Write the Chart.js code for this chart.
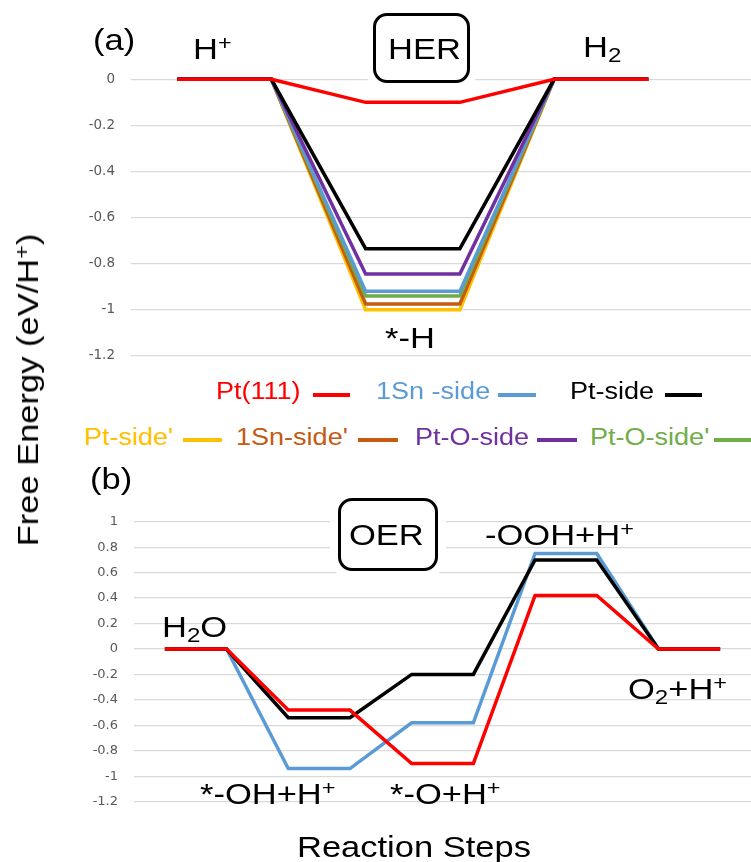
<!DOCTYPE html>
<html>
<head>
<meta charset="utf-8">
<title>Free energy diagrams: HER and OER</title>
<script src="https://cdn.jsdelivr.net/npm/chart.js@4.4.1/dist/chart.umd.min.js"></script>
<style>
  html, body { margin: 0; padding: 0; background: #fff; }
  #page { position: relative; width: 751px; height: 862px; overflow: hidden;
          font-family: "Liberation Sans", Arial, sans-serif; color: #000; }
  canvas { position: absolute; left: 0; }
  .t { position: absolute; white-space: nowrap; line-height: 1;
       transform-origin: 0 0; transform: scaleX(1.15); }
  .sup { font-size: 0.68em; position: relative; top: -0.42em; }
  .sub { font-size: 0.7em; position: relative; top: 0.26em; }
  .box { position: absolute; box-sizing: border-box; border: 3px solid #000;
         border-radius: 14px; background: #fff; box-shadow: 0 0 0 8px #fff; }
  .key { position: absolute; height: 4px; }
  .vt { position: absolute; width: 0; height: 0; transform-origin: 0 0;
        transform: rotate(-90deg) scaleX(1.15); }
  .vt > div { position: absolute; left: 0; top: 0; white-space: nowrap; line-height: 1;
              transform: translate(-50%, -50%); }
</style>
</head>
<body>
<div id="page">
  <canvas id="her" width="751" height="380" style="top:0px"></canvas>
  <canvas id="oer" width="751" height="400" style="top:460px"></canvas>
</div>
<script>
// ---- HER: reaction steps (two points per state: H+, *-H, H2) ----
const herSteps = [0, 1, 2, 3, 4, 5];
const herPt111    = [0, 0, -0.10,  -0.10,  0, 0];
const herPtSide   = [0, 0, -0.735, -0.735, 0, 0];
const herPtOSide  = [0, 0, -0.845, -0.845, 0, 0];
const her1SnSide  = [0, 0, -0.92,  -0.92,  0, 0];
const herPtOSideP = [0, 0, -0.94,  -0.94,  0, 0];
const her1SnSideP = [0, 0, -0.975, -0.975, 0, 0];
const herPtSideP  = [0, 0, -1.00,  -1.00,  0, 0];
const herTicks = [0, -0.2, -0.4, -0.6, -0.8, -1, -1.2];

// ---- OER: reaction steps (H2O, *-OH+H+, *-O+H+, -OOH+H+, O2+H+) ----
const oerSteps = [0, 1, 2, 3, 4, 5, 6, 7, 8, 9];
const oerPt111   = [0, 0, -0.48, -0.48, -0.90, -0.90, 0.42, 0.42, 0, 0];
const oerPtSide  = [0, 0, -0.54, -0.54, -0.20, -0.20, 0.70, 0.70, 0, 0];
const oer1SnSide = [0, 0, -0.94, -0.94, -0.58, -0.58, 0.75, 0.75, 0, 0];
const oerTicks = [1, 0.8, 0.6, 0.4, 0.2, 0, -0.2, -0.4, -0.6, -0.8, -1, -1.2];

// series names and colours (shared by both panels)
const seriesNames  = ["Pt(111)", "1Sn -side", "Pt-side", "Pt-side'", "1Sn-side'", "Pt-O-side", "Pt-O-side'"];
const seriesColors = ["#ff0000", "#5b9bd5", "#000000", "#ffc000", "#c55a11", "#7030a0", "#70ad47"];

const TICK_FONT = "'DejaVu Sans', 'Liberation Sans', sans-serif";
const page = document.getElementById('page');

function pts(xs, ys) { return xs.map((x, i) => ({ x: x, y: ys[i] })); }

function line(nameIdx, xs, ys) {
  return {
    label: seriesNames[nameIdx],
    data: pts(xs, ys),
    borderColor: seriesColors[nameIdx],
    backgroundColor: seriesColors[nameIdx],
    borderWidth: 3.5,
    pointRadius: 0,
    tension: 0,
    fill: false,
    clip: false
  };
}

function yAxis(ticks, axisWidth, fontSize) {
  return {
    min: Math.min.apply(null, ticks),
    max: Math.max.apply(null, ticks),
    afterBuildTicks: s => { s.ticks = ticks.map(v => ({ value: v })); },
    afterFit: s => { s.width = axisWidth; },
    ticks: {
      color: '#595959', font: { family: TICK_FONT, size: fontSize },
      padding: 16, autoSkip: false, callback: v => String(v)
    },
    grid: { color: '#d9d9d9', lineWidth: 1.3, drawTicks: false, tickLength: 0 },
    border: { display: false }
  };
}

const common = {
  responsive: false, animation: false, devicePixelRatio: 1,
  plugins: { legend: { display: false }, tooltip: { enabled: false } }
};

// first dataset is drawn on top
new Chart(document.getElementById('her'), {
  type: 'line',
  data: { datasets: [
    line(0, herSteps, herPt111),
    line(2, herSteps, herPtSide),
    line(5, herSteps, herPtOSide),
    line(1, herSteps, her1SnSide),
    line(6, herSteps, herPtOSideP),
    line(4, herSteps, her1SnSideP),
    line(3, herSteps, herPtSideP)
  ] },
  options: Object.assign({}, common, {
    layout: { padding: { top: 79.3, bottom: 16.7, left: 0, right: 0 } },
    scales: {
      x: { type: 'linear', min: -0.49, max: 6.09, display: false },
      y: yAxis(herTicks, 131, 13.5)
    }
  })
});

new Chart(document.getElementById('oer'), {
  type: 'line',
  data: { datasets: [
    line(0, oerSteps, oerPt111),
    line(2, oerSteps, oerPtSide),
    line(1, oerSteps, oer1SnSide)
  ] },
  options: Object.assign({}, common, {
    layout: { padding: { top: 61.7, bottom: 58.3, left: 0, right: 0 } },
    scales: {
      x: { type: 'linear', min: -0.5, max: 9.5, display: false },
      y: yAxis(oerTicks, 134, 13)
    }
  })
});

// ---- text overlays ----
function text(html, left, baseline, size, color) {
  const d = document.createElement('div');
  d.className = 't';
  d.innerHTML = html;
  d.style.left = left + 'px';
  d.style.top = (baseline - 0.8465 * size) + 'px';
  d.style.fontSize = size + 'px';
  if (color) d.style.color = color;
  page.appendChild(d);
  return d;
}
function box(left, top, w, h) {
  const b = document.createElement('div');
  b.className = 'box';
  b.style.left = left + 'px'; b.style.top = top + 'px';
  b.style.width = w + 'px'; b.style.height = h + 'px';
  page.appendChild(b);
}
function key(color, left, top, len) {
  const k = document.createElement('div');
  k.className = 'key';
  k.style.left = left + 'px'; k.style.top = top + 'px';
  k.style.width = len + 'px'; k.style.background = color;
  page.appendChild(k);
}

const SUP = '<span class="sup">+</span>';
const SUB2 = '<span class="sub">2</span>';

// panel (a)
text('(a)', 93, 50, 30);
text('H' + SUP, 193, 59, 30);
text('H' + SUB2, 583, 57, 30);
box(373, 13, 97, 70);
text('HER', 388, 59, 30);
text('*-H', 385, 348, 30);

// legend: [series, text x, row baseline, key x, key top, key length]
const legendItems = [
  [0, 216, 400, 313, 393, 37],
  [1, 376, 400, 498, 393, 38],
  [2, 570, 400, 665, 393, 37],
  [3, 84, 446, 183, 438, 39],
  [4, 236, 446, 358, 438, 40],
  [5, 415, 446, 537, 438, 40],
  [6, 590, 446, 714, 438, 37]
];
legendItems.forEach(it => {
  text(seriesNames[it[0]], it[1], it[2], 23.5, seriesColors[it[0]]);
  key(seriesColors[it[0]], it[3], it[4], it[5]);
});

// panel (b)
text('(b)', 90, 489, 30);
box(338, 498, 100, 73);
text('OER', 349, 545, 30);
text('H' + SUB2 + 'O', 162, 637, 30);
text('-OOH+H' + SUP, 485, 545, 30);
text('*-OH+H' + SUP, 200, 804, 30);
text('*-O+H' + SUP, 390, 804, 30);
text('O' + SUB2 + '+H' + SUP, 628, 699, 30);

// axis titles
text('Reaction Steps', 297, 857, 30);
const vt = document.createElement('div');
vt.className = 'vt';
vt.style.left = '28px'; vt.style.top = '390px';
vt.innerHTML = '<div style="font-size:30px">Free Energy (eV/H' + SUP + ')</div>';
page.appendChild(vt);
</script>
</body>
</html>
